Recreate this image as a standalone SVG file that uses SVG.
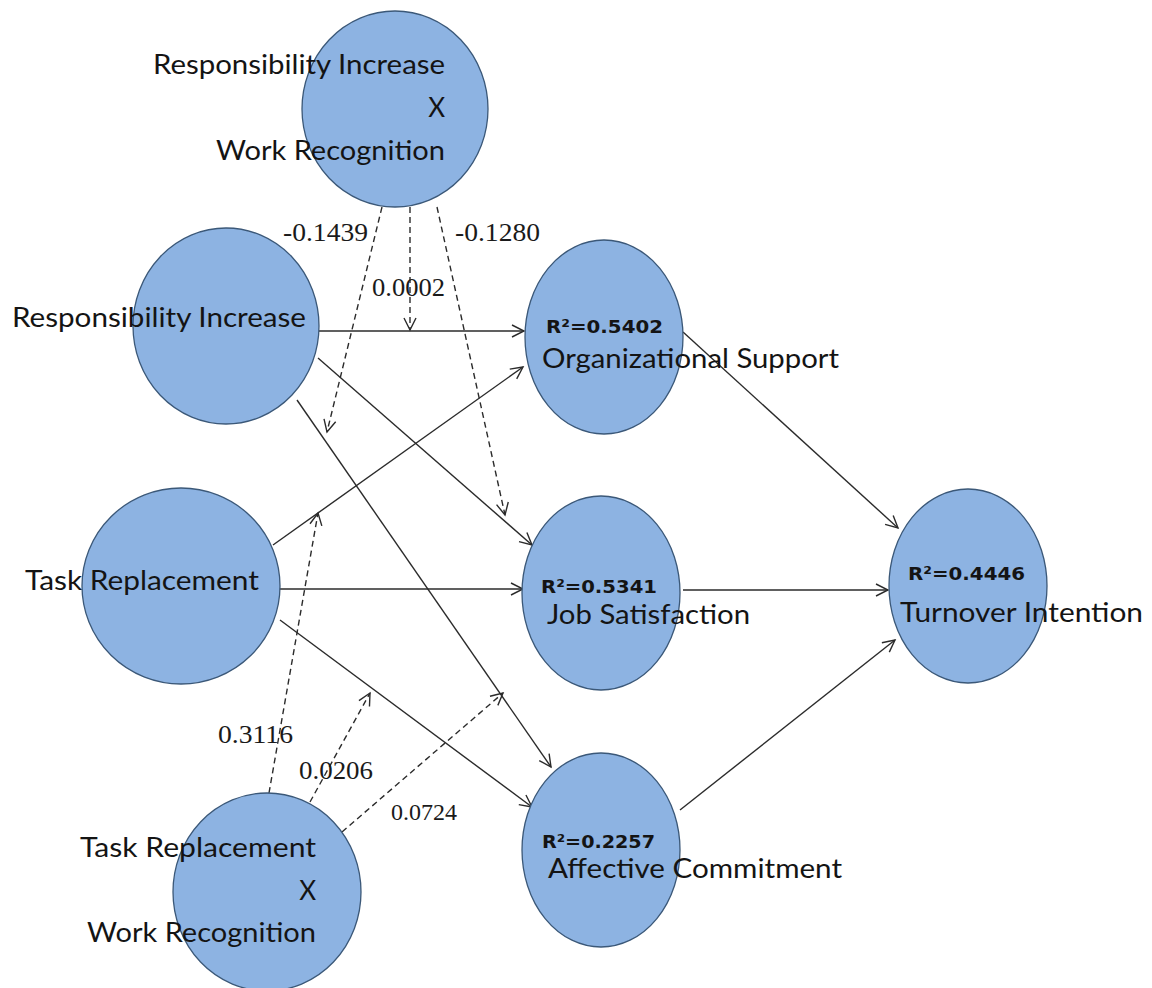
<svg xmlns="http://www.w3.org/2000/svg" width="1152" height="988" viewBox="0 0 1152 988">
<style>
.node{fill:#8db3e2;stroke:#3b5878;stroke-width:1.3}
.lbl{font-family:Lato,"Liberation Sans",sans-serif;font-size:26px;fill:#141414}
.r2{font-family:"DejaVu Sans",sans-serif;font-weight:bold;font-size:18px;fill:#141414}
.num{font-family:"Liberation Serif",serif;font-size:26px;fill:#1a1a1a}
.s{stroke:#2b2b2b;stroke-width:1.4;fill:none;marker-end:url(#a)}
.d{stroke:#2b2b2b;stroke-width:1.4;fill:none;stroke-dasharray:6 4;marker-end:url(#a)}
</style>
<defs>
<marker id="a" markerUnits="userSpaceOnUse" markerWidth="16" markerHeight="16" refX="13" refY="7" orient="auto" viewBox="0 0 16 14">
<path d="M1,1 L13,7 L1,13" fill="none" stroke="#2b2b2b" stroke-width="1.4"/>
</marker>
</defs>
<rect width="1152" height="988" fill="#ffffff"/>
<g id="connectors">
<line class="s" x1="319" y1="331" x2="524" y2="331"/>
<line class="s" x1="318" y1="358" x2="532" y2="545"/>
<line class="s" x1="297" y1="400" x2="551" y2="767"/>
<line class="s" x1="273" y1="545" x2="523" y2="367"/>
<line class="s" x1="279" y1="589" x2="523" y2="589"/>
<line class="s" x1="280" y1="620" x2="532" y2="807"/>
<line class="s" x1="683" y1="332" x2="898" y2="528"/>
<line class="s" x1="683" y1="590" x2="888" y2="590"/>
<line class="s" x1="680" y1="810" x2="895" y2="640"/>
<line class="d" x1="382" y1="207" x2="327" y2="432"/>
<line class="d" x1="410" y1="207" x2="410" y2="330"/>
<line class="d" x1="437" y1="207" x2="505" y2="515"/>
<line class="d" x1="269" y1="793" x2="318" y2="513"/>
<line class="d" x1="310" y1="802" x2="370" y2="693"/>
<line class="d" x1="342" y1="832" x2="503" y2="693"/>
</g>
<g id="labels">
<text class="num" x="283" y="241" textLength="85" lengthAdjust="spacingAndGlyphs">-0.1439</text>
<text class="num" x="455" y="241" textLength="85" lengthAdjust="spacingAndGlyphs">-0.1280</text>
<text class="num" x="372" y="296" textLength="73" lengthAdjust="spacingAndGlyphs">0.0002</text>
<text class="num" x="218" y="743" textLength="75" lengthAdjust="spacingAndGlyphs">0.3116</text>
<text class="num" x="299" y="779" textLength="74" lengthAdjust="spacingAndGlyphs">0.0206</text>
<text class="num" x="391" y="820" textLength="66" lengthAdjust="spacingAndGlyphs" style="font-size:23px">0.0724</text>
</g>
<g id="node-ri-wr">
<ellipse class="node" cx="395" cy="109" rx="93" ry="98"/>
<text class="lbl" x="153" y="74" textLength="292" lengthAdjust="spacingAndGlyphs">Responsibility Increase</text>
<text class="lbl" x="445" y="117" text-anchor="end">X</text>
<text class="lbl" x="216" y="160" textLength="229" lengthAdjust="spacingAndGlyphs">Work Recognition</text>
</g>
<g id="node-ri">
<ellipse class="node" cx="226" cy="326" rx="93" ry="98"/>
<text class="lbl" x="12" y="327" textLength="294" lengthAdjust="spacingAndGlyphs">Responsibility Increase</text>
</g>
<g id="node-tr">
<ellipse class="node" cx="181" cy="586" rx="99" ry="98"/>
<text class="lbl" x="25" y="590" textLength="234" lengthAdjust="spacingAndGlyphs">Task Replacement</text>
</g>
<g id="node-tr-wr">
<ellipse class="node" cx="267" cy="892" rx="94" ry="99"/>
<text class="lbl" x="80" y="857" textLength="236" lengthAdjust="spacingAndGlyphs">Task Replacement</text>
<text class="lbl" x="316" y="900" text-anchor="end">X</text>
<text class="lbl" x="87" y="942" textLength="229" lengthAdjust="spacingAndGlyphs">Work Recognition</text>
</g>
<g id="node-os">
<ellipse class="node" cx="604" cy="337" rx="79" ry="97"/>
<text class="r2" x="546" y="333" textLength="117" lengthAdjust="spacingAndGlyphs">R²=0.5402</text>
<text class="lbl" x="542" y="368" textLength="297" lengthAdjust="spacingAndGlyphs">Organizational Support</text>
</g>
<g id="node-js">
<ellipse class="node" cx="601" cy="593" rx="79" ry="97"/>
<text class="r2" x="541" y="593" textLength="116" lengthAdjust="spacingAndGlyphs">R²=0.5341</text>
<text class="lbl" x="547" y="624" textLength="203" lengthAdjust="spacingAndGlyphs">Job Satisfaction</text>
</g>
<g id="node-ac">
<ellipse class="node" cx="601" cy="850" rx="79" ry="97"/>
<text class="r2" x="542" y="848" textLength="113" lengthAdjust="spacingAndGlyphs">R²=0.2257</text>
<text class="lbl" x="548" y="878" textLength="294" lengthAdjust="spacingAndGlyphs">Affective Commitment</text>
</g>
<g id="node-ti">
<ellipse class="node" cx="968" cy="586" rx="79" ry="97"/>
<text class="r2" x="908" y="580" textLength="117" lengthAdjust="spacingAndGlyphs">R²=0.4446</text>
<text class="lbl" x="900" y="622" textLength="243" lengthAdjust="spacingAndGlyphs">Turnover Intention</text>
</g>
</svg>
